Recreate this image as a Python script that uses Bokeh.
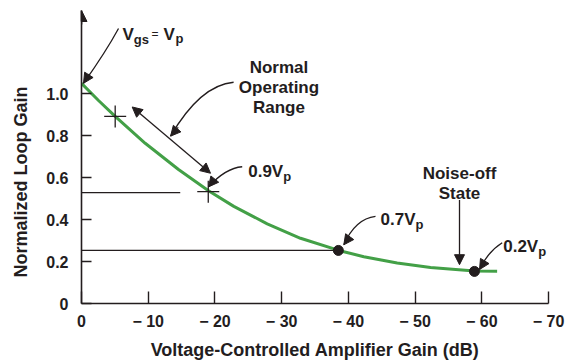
from bokeh.plotting import figure
from bokeh.models import Range1d, FixedTicker, Arrow, NormalHead
from bokeh.core.properties import value
from bokeh.embed import file_html
from bokeh.resources import INLINE

# ---- data ----
curve_x = [0, -2.55, -5.05, -9.55, -14.54, -19.04, -22.83, -27.84, -32.83, -38.57, -42.32, -47.32, -52.32, -58.91, -62.3]
curve_y = [1.05, 0.968, 0.892, 0.764, 0.639, 0.538, 0.463, 0.380, 0.311, 0.253, 0.223, 0.193, 0.172, 0.155, 0.154]

range_marks_x = [-5.05, -19.0]
range_marks_y = [0.892, 0.533]

state_points_x = [-38.5, -58.9]
state_points_y = [0.253, 0.153]

ref_line_y = [0.529, 0.253]
ref_line_xend = [-14.8, -38.5]

x_ticks = [0, -10, -20, -30, -40, -50, -60, -70]
x_tick_labels = ["0", "\u2212 10", "\u2212 20", "\u2212 30", "\u2212 40", "\u2212 50", "\u2212 60", "\u2212 70"]
y_ticks = [0, 0.2, 0.4, 0.6, 0.8, 1.0]
y_tick_labels = ["0", "0.2", "0.4", "0.6", "0.8", "1.0"]

INK = "#231d1e"
GREEN = "#43a047"
FONT = "Liberation Sans"

p = figure(width=567, height=362, output_backend="svg", toolbar_location=None,
           x_range=Range1d(0, -70), y_range=Range1d(0, 1.397),
           min_border_left=81, min_border_right=19, min_border_top=10, min_border_bottom=58)
p.outline_line_color = None
p.grid.grid_line_color = None
p.background_fill_color = "white"
p.border_fill_color = "white"

for ax in (p.xaxis[0], p.yaxis[0]):
    ax.axis_line_color = INK
    ax.axis_line_width = 1.6
    ax.major_tick_line_color = INK
    ax.major_tick_line_width = 1.4
    ax.minor_tick_line_color = None
    ax.major_tick_out = 0
    ax.major_label_text_font = FONT
    ax.major_label_text_font_style = "bold"
    ax.major_label_text_font_size = "16px"
    ax.major_label_text_color = INK
    ax.axis_label_text_font = FONT
    ax.axis_label_text_font_style = "bold"
    ax.axis_label_text_font_size = "18px"
    ax.axis_label_text_color = INK

xa = p.xaxis[0]
xa.ticker = FixedTicker(ticks=x_ticks)
xa.major_label_overrides = dict(zip(x_ticks, x_tick_labels))
xa.major_tick_in = 12
xa.major_label_standoff = 9
xa.axis_label = "Voltage-Controlled Amplifier Gain (dB)"
xa.axis_label_standoff = 7

ya = p.yaxis[0]
ya.ticker = FixedTicker(ticks=y_ticks)
ya.major_label_overrides = dict(zip(y_ticks, y_tick_labels))
ya.major_tick_in = 10
ya.major_label_standoff = 13
# trailing no-break spaces push the visible title lower along the axis, as in the reference
ya.axis_label = "Normalized Loop Gain" + "\u00a0" * 10
ya.axis_label_standoff = 12

# y-axis arrow head
p.add_layout(Arrow(x_start=0, y_start=1.33, x_end=0, y_end=1.397, line_color=INK, line_width=1.6,
                   end=NormalHead(size=11, fill_color=INK, line_color=INK)))

# reference horizontal lines
p.segment(x0=[0, 0], y0=ref_line_y, x1=ref_line_xend, y1=ref_line_y, line_color=INK, line_width=1.3)

# curve
p.line(curve_x, curve_y, line_color=GREEN, line_width=3, line_join="round")

# markers
p.scatter(range_marks_x, range_marks_y, marker="cross", size=22, line_color=INK, line_width=1.3)
p.scatter(state_points_x, state_points_y, marker="circle", size=10, fill_color=INK, line_color=INK)

# curved arrow shafts (quadratic beziers) + heads
def curved_arrow(x0, y0, cx, cy, x1, y1, hx, hy):
    p.quadratic(x0=[x0], y0=[y0], cx=[cx], cy=[cy], x1=[x1], y1=[y1], line_color=INK, line_width=1.3)
    p.add_layout(Arrow(x_start=hx, y_start=hy, x_end=x1, y_end=y1, line_color=INK, line_width=1.3,
                       end=NormalHead(size=10, fill_color=INK, line_color=INK)))

curved_arrow(-5.55, 1.311, -3.6, 1.197, -0.3, 1.050, -1.2, 1.095)        # Vgs = Vp
curved_arrow(-22.8, 1.055, -17.8, 1.041, -13.35, 0.798, -14.5, 0.84)    # Normal operating range
curved_arrow(-24.09, 0.652, -21.6, 0.646, -19.04, 0.556, -19.9, 0.59)   # 0.9Vp
curved_arrow(-44.07, 0.415, -41.07, 0.404, -39.32, 0.280, -40.0, 0.31)  # 0.7Vp
curved_arrow(-63.06, 0.290, -60.9, 0.247, -59.66, 0.162, -60.2, 0.19)   # 0.2Vp

# double arrow for the operating range
p.add_layout(Arrow(x_start=-7.6, y_start=0.937, x_end=-19.34, y_end=0.621, line_color=INK, line_width=1.3,
                   start=NormalHead(size=10, fill_color=INK, line_color=INK),
                   end=NormalHead(size=10, fill_color=INK, line_color=INK)))
# noise-off arrow
p.add_layout(Arrow(x_start=-56.66, y_start=0.494, x_end=-56.66, y_end=0.185, line_color=INK, line_width=1.3,
                   end=NormalHead(size=10, fill_color=INK, line_color=INK)))

# texts
def txt(x, y, s, size="17px", align="left", style="bold"):
    p.text(x=[x], y=[y], text=[s], text_font=value(FONT), text_font_style=style, text_font_size=size,
           text_color=INK, text_align=align, text_baseline="alphabetic")

txt(-6.15, 1.283, "V")
txt(-7.85, 1.259, "gs", size="13px")
txt(-10.5, 1.283, "=", size="12px", style="normal")
txt(-12.29, 1.283, "V")
txt(-14.1, 1.262, "p", size="13px")

txt(-29.6, 1.1235, "Normal", align="center")
txt(-29.6, 1.031, "Operating", align="center")
txt(-29.6, 0.936, "Range", align="center")

txt(-24.99, 0.627, "0.9V")
txt(-30.25, 0.606, "p", size="13px")
txt(-44.82, 0.399, "0.7V")
txt(-50.07, 0.378, "p", size="13px")
txt(-63.21, 0.271, "0.2V")
txt(-68.45, 0.250, "p", size="13px")

txt(-56.66, 0.622, "Noise-off", align="center")
txt(-56.66, 0.523, "State", align="center")

open("out.html", "w").write(file_html(p, INLINE))
